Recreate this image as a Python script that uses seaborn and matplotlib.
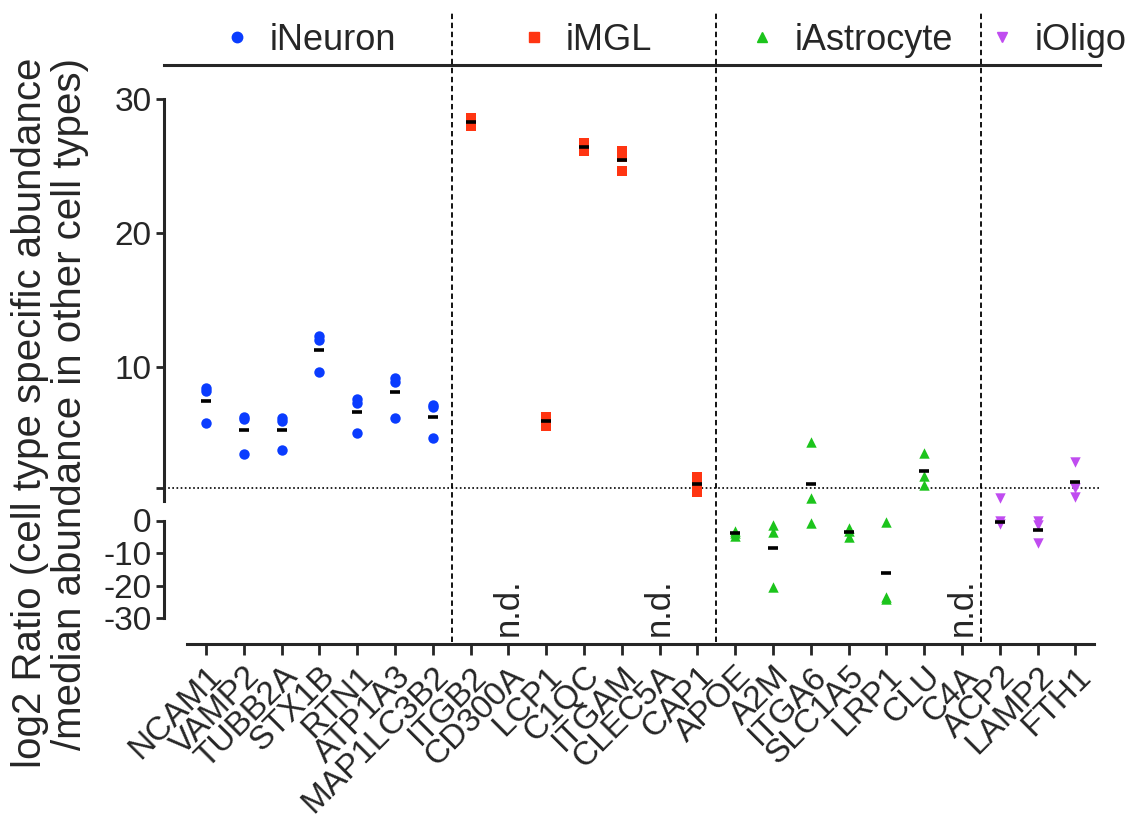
import numpy as np
import pandas as pd
import matplotlib
matplotlib.use("Agg")
import matplotlib.pyplot as plt
import seaborn as sns
from matplotlib.transforms import blended_transform_factory
from matplotlib.lines import Line2D

# ---------------- data ----------------
cell_types = ["iNeuron", "iMGL", "iAstrocyte", "iOligo"]

neuron_genes = ["NCAM1", "VAMP2", "TUBB2A", "STX1B", "RTN1", "ATP1A3", "MAP1LC3B2"]
neuron_vals = [[8.4, 8.2, 5.8], [6.3, 6.1, 3.5], [6.2, 6.0, 3.8], [12.3, 12.0, 9.6],
               [7.6, 7.3, 5.1], [9.2, 8.9, 6.2], [7.2, 7.0, 4.7]]

mgl_genes = ["ITGB2", "CD300A", "LCP1", "C1QC", "ITGAM", "CLEC5A", "CAP1"]
mgl_vals = [[28.6, 28.3, 28.0], None, [6.3, 5.9, 5.6], [26.7, 26.4, 26.1],
            [26.1, 25.7, 24.6], None, [1.8, 1.3, 0.7]]

astro_genes = ["APOE", "A2M", "ITGA6", "SLC1A5", "LRP1", "CLU", "C4A"]
astro_vals = [[-3.3, -3.7, -4.9], [-1.3, -3.6, -20.6], [4.4, 0.2, -0.8],
              [-2.3, -3.2, -5.0], [-0.5, -23.5, -24.2], [3.6, 1.9, 1.2], None]

oligo_genes = ["ACP2", "LAMP2", "FTH1"]
oligo_vals = [[0.2, -0.3, -1.1], [-0.3, -1.5, -6.8], [2.9, 1.0, 0.3]]

top_ticks = [1, 10, 20, 30]
top_ticklabels = ["", "10", "20", "30"]
bot_ticks = [0, -10, -20, -30]
threshold = 1

colors = ["#0a3cff", "#ff3512", "#1cc41c", "#c04cf0"]
markers = ["o", "s", "^", "v"]

groups = [(neuron_genes, neuron_vals), (mgl_genes, mgl_vals),
          (astro_genes, astro_vals), (oligo_genes, oligo_vals)]
all_genes = [g for genes, _ in groups for g in genes]

rows = []
nd_genes = []
for ct, (genes, vals) in zip(cell_types, groups):
    for g, v in zip(genes, vals):
        if v is None:
            nd_genes.append(g)
            continue
        for x in v:
            rows.append({"gene": g, "cell": ct, "value": x})
df = pd.DataFrame(rows)
gene_mean = df.groupby("gene")["value"].mean()

# ---------------- figure ----------------
sns.set_style("ticks")
plt.rcParams["font.family"] = ["Liberation Sans", "DejaVu Sans"]
plt.rcParams["font.size"] = 24

W, H = 1138, 815
fig = plt.figure(figsize=(W / 100, H / 100), dpi=100)

ax_top = fig.add_axes([164 / W, 1 - 501 / H, (1100 - 164) / W, (501 - 65) / H])
ax_bot = fig.add_axes([164 / W, 1 - 644 / H, (1100 - 164) / W, (644 - 505) / H])

for ax, keep in ((ax_top, lambda s: s >= 0), (ax_bot, lambda s: s < 0)):
    for ct, col, mk in zip(cell_types, colors, markers):
        sub = df[(df["cell"] == ct) & keep(df["value"])]
        if len(sub):
            sns.stripplot(data=sub, x="gene", y="value", order=all_genes, jitter=False,
                          marker=mk, color=col, size=7.5, linewidth=0, ax=ax, zorder=3)
        mean_genes = [g for g in gene_mean.index if keep(gene_mean[g])]
        msub = df[(df["cell"] == ct) & df["gene"].isin(mean_genes)]
        if len(msub):
            sns.pointplot(data=msub, x="gene", y="value", order=all_genes, estimator="mean",
                          errorbar=None, color="black", marker="_", linestyle="none",
                          markersize=7, markeredgewidth=2.6, ax=ax, zorder=5)
    for c in ax.collections:
        c.set_clip_on(False)
    for ln in ax.lines:
        ln.set_clip_on(False)

xl = ((164 - 206) / 37.8, (1100 - 206) / 37.8)
top_scale = (501 - 99) / 30
bot_scale = (618 - 520.5) / 30
ax_top.set_xlim(*xl)
ax_bot.set_xlim(*xl)
ax_top.set_ylim(0, (501 - 65) / top_scale)
ax_bot.set_ylim(-(644 - 520.5) / bot_scale, (520.5 - 505) / bot_scale)

# threshold line
ax_top.axhline(threshold, color="black", lw=1.2, ls=(0, (1, 1.5)), zorder=1)

# spines / ticks
for ax in (ax_top, ax_bot):
    ax.set_xlabel("")
    ax.set_ylabel("")
    ax.spines["right"].set_visible(False)
    for s in ax.spines.values():
        s.set_linewidth(2.2)
    ax.tick_params(axis="both", direction="out", length=6, width=2, labelsize=24, pad=3)

ax_top.spines["bottom"].set_visible(False)
ax_top.spines["left"].set_bounds(0, 30)
ax_top.tick_params(axis="x", bottom=False, labelbottom=False)
ax_top.set_yticks(top_ticks)
ax_top.set_yticklabels(top_ticklabels)

ax_bot.spines["top"].set_visible(False)
ax_bot.spines["left"].set_bounds(-30, 0)
ax_bot.spines["bottom"].set_bounds(-0.5, len(all_genes) - 0.5)
ax_bot.set_yticks(bot_ticks)
ax_bot.set_yticklabels([str(t) for t in bot_ticks])
ax_bot.set_xticks(range(len(all_genes)))
ax_bot.set_xticklabels(all_genes, rotation=45, ha="right", rotation_mode="anchor")
ax_bot.tick_params(axis="x", length=8, pad=4)

# n.d. labels
for g in nd_genes:
    ax_bot.text(all_genes.index(g), -35.4, "n.d.", rotation=90, ha="center", va="bottom",
                fontsize=25, zorder=4)

# group dividers and legend
trans = blended_transform_factory(ax_top.transData, fig.transFigure)
sizes = [len(g) for g, _ in groups]
edges = np.cumsum(sizes)[:-1] - 0.5
for b in edges:
    fig.add_artist(Line2D([b, b], [1 - 642 / H, 1 - 12 / H], transform=trans,
                          color="black", lw=1.3, ls=(0, (3, 2))))

bounds = [xl[0]] + list(edges) + [xl[1] + 0.8]
for i, (ct, col, mk) in enumerate(zip(cell_types, colors, markers)):
    xc = (bounds[i] + bounds[i + 1]) / 2
    h = Line2D([], [], marker=mk, color=col, ls="none", markersize=7.5, label=ct)
    fig.legend(handles=[h], labels=[ct], loc="center", bbox_to_anchor=(xc, 1 - 40 / H),
               bbox_transform=trans, frameon=False, fontsize=26, handletextpad=0.4,
               handlelength=1.0, borderpad=0, borderaxespad=0)

fig.text(50 / W, 1 - 58 / H,
         "log2 Ratio (cell type specific abundance\n/median abundance in other cell types)",
         rotation=90, ha="center", va="top", multialignment="right", fontsize=29,
         linespacing=1.05)

fig.savefig("out.png", dpi=100)
